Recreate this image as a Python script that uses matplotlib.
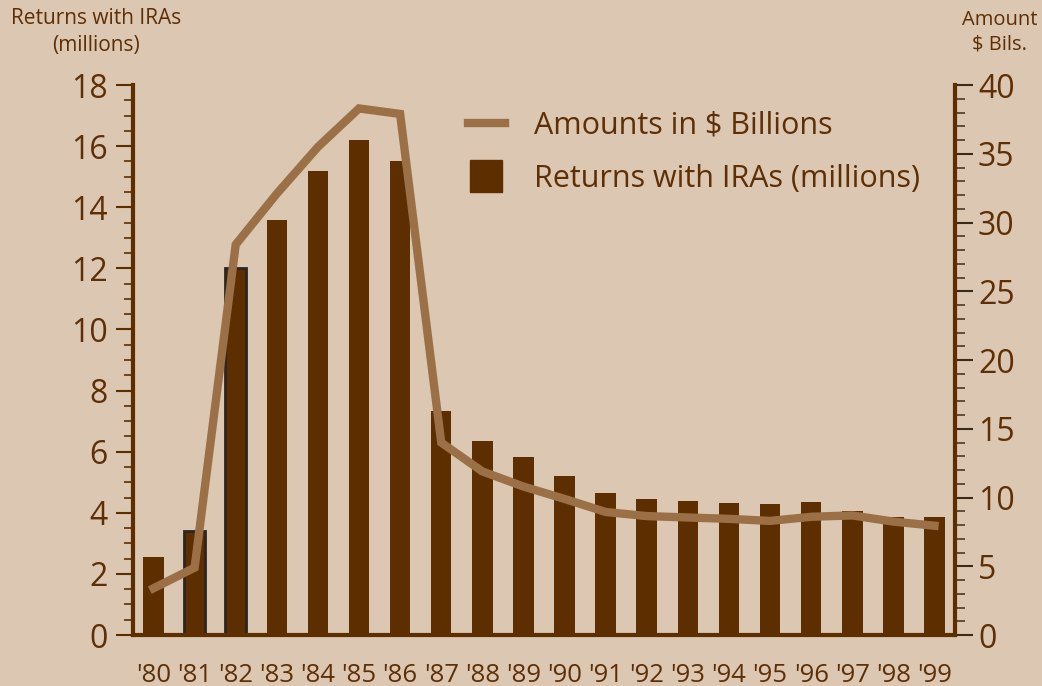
import matplotlib.pyplot as plt
import numpy as np
from matplotlib.ticker import MultipleLocator
from matplotlib.lines import Line2D

# dati: anni, dichiarazioni con IRA (milioni) e importi (miliardi $)
anni = ["'80", "'81", "'82", "'83", "'84", "'85", "'86", "'87", "'88", "'89",
        "'90", "'91", "'92", "'93", "'94", "'95", "'96", "'97", "'98", "'99"]
returns_mil = [2.55, 3.42, 12.0, 13.6, 15.2, 16.2, 15.5, 7.33, 6.35, 5.82,
               5.2, 4.65, 4.45, 4.38, 4.32, 4.29, 4.35, 4.06, 3.86, 3.86]
amount_bil = [3.4, 4.9, 28.4, 32.1, 35.5, 38.3, 37.9, 14.0, 11.9, 10.8,
              9.9, 8.95, 8.65, 8.55, 8.45, 8.3, 8.6, 8.7, 8.25, 7.95]

sfondo = '#dbc7b2'
marrone = '#5c2e00'
linea = '#9b7046'
testo = '#5e2f05'

plt.rcParams['font.family'] = ['Open Sans', 'DejaVu Sans']

fig = plt.figure(figsize=(10.42, 6.86), dpi=100, facecolor=sfondo)
ax = fig.add_axes([0.1276, 0.0743, 0.7889, 0.8017])
ax.set_facecolor(sfondo)

x = np.arange(len(anni))
bordi = ['none'] * len(anni)
bordi[1] = '#2b2622'
bordi[2] = '#2b2622'
ax.bar(x, returns_mil, width=0.5, color=marrone, edgecolor=bordi,
       linewidth=2, zorder=2)

ax.set_xlim(-0.5, 19.5)
ax.set_ylim(0, 18)
ax.yaxis.set_major_locator(MultipleLocator(2))
ax.yaxis.set_minor_locator(MultipleLocator(0.5))
ax.set_xticks(x)
ax.set_xticklabels(anni, fontsize=18.5, color=testo)
ax.tick_params(axis='x', length=0, pad=20)
ax.tick_params(axis='y', which='major', length=12, width=1.5, color=marrone,
               labelsize=23, labelcolor=testo, pad=6)
ax.tick_params(axis='y', which='minor', length=6.5, width=1.2, color=marrone)
for s in ['top', 'right']:
    ax.spines[s].set_visible(False)
for s in ['left', 'bottom']:
    ax.spines[s].set_color(marrone)
    ax.spines[s].set_linewidth(3)

ax2 = ax.twinx()
ln, = ax2.plot(x, amount_bil, color=linea, linewidth=6, solid_joinstyle='miter',
               zorder=3)
ax2.set_ylim(0, 40)
ax2.yaxis.set_major_locator(MultipleLocator(5))
ax2.yaxis.set_minor_locator(MultipleLocator(1))
ax2.tick_params(axis='y', which='major', length=13, width=1.5, color='#3a2a1a',
                labelsize=23, labelcolor=testo, pad=3.5)
ax2.tick_params(axis='y', which='minor', length=7, width=1.2, color='#4a3a2a')
for s in ['top', 'left', 'bottom']:
    ax2.spines[s].set_visible(False)
ax2.spines['right'].set_color(marrone)
ax2.spines['right'].set_linewidth(3)

# quadratino per la legenda delle barre
quadro = Line2D([], [], marker='s', markersize=23, linestyle='none', color=marrone)
ax2.legend([ln, quadro], ['Amounts in $ Billions', 'Returns with IRAs (millions)'],
           loc='upper left', bbox_to_anchor=(0.374, 1.004), frameon=False,
           fontsize=22, labelcolor=testo, handlelength=1.2, handletextpad=0.95,
           labelspacing=0.76)

fig.text(0.092, 0.988, 'Returns with IRAs\n(millions)', ha='center', va='top',
         fontsize=15, color=testo, linespacing=1.35)
fig.text(0.959, 0.985, 'Amount\n$ Bils.', ha='center', va='top',
         fontsize=14.5, color=testo, linespacing=1.25)

fig.savefig('out.png', dpi=100, facecolor=sfondo)
